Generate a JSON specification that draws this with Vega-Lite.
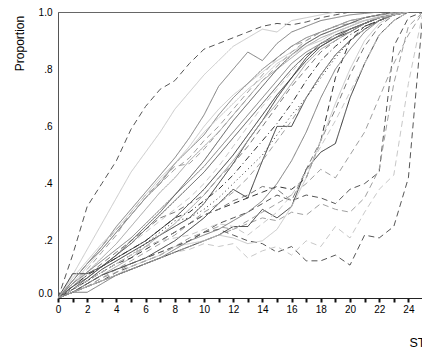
{
"$schema": "https://vega.github.io/schema/vega-lite/v6.json",
"width": 365, "height": 286,
"autosize": "none",
"padding": {"left": 58, "top": 12, "right": 0, "bottom": 54},
"background": "white",
"config": {"view": {"stroke": "#666666", "strokeWidth": 1}, "font": "Liberation Sans"},
"datasets": {
"meta": [
{"s":1,"tone":"d","pat":"a"},{"s":2,"tone":"x","pat":"s"},{"s":3,"tone":"m","pat":"s"},{"s":4,"tone":"x","pat":"s"},
{"s":5,"tone":"l","pat":"s"},{"s":6,"tone":"l","pat":"a"},{"s":7,"tone":"k","pat":"s"},{"s":8,"tone":"k","pat":"s"},
{"s":9,"tone":"k","pat":"o"},{"s":10,"tone":"k","pat":"s"},{"s":11,"tone":"m","pat":"a"},{"s":12,"tone":"l","pat":"s"},
{"s":13,"tone":"x","pat":"a"},{"s":14,"tone":"d","pat":"s"},{"s":15,"tone":"m","pat":"s"},{"s":16,"tone":"k","pat":"b"},
{"s":17,"tone":"l","pat":"a"},{"s":18,"tone":"k","pat":"a"},{"s":19,"tone":"d","pat":"a"},{"s":20,"tone":"l","pat":"a"},
{"s":21,"tone":"d","pat":"a"},{"s":22,"tone":"x","pat":"a"},{"s":23,"tone":"k","pat":"s"},{"s":24,"tone":"m","pat":"a"},
{"s":25,"tone":"x","pat":"s"},{"s":26,"tone":"x","pat":"a"},{"s":27,"tone":"m","pat":"s"},{"s":28,"tone":"m","pat":"s"},
{"s":29,"tone":"d","pat":"s"},{"s":30,"tone":"x","pat":"s"},{"s":31,"tone":"l","pat":"a"},{"s":32,"tone":"l","pat":"a"}
],
"curves": [
{"s":1,"t":0,"p":0},{"s":1,"t":1,"p":0.15},{"s":1,"t":2,"p":0.32},{"s":1,"t":3,"p":0.40},{"s":1,"t":4,"p":0.48},{"s":1,"t":5,"p":0.59},{"s":1,"t":6,"p":0.67},{"s":1,"t":7,"p":0.73},{"s":1,"t":8,"p":0.76},{"s":1,"t":9,"p":0.82},{"s":1,"t":10,"p":0.87},{"s":1,"t":11,"p":0.89},{"s":1,"t":12,"p":0.91},{"s":1,"t":13,"p":0.93},{"s":1,"t":14,"p":0.95},{"s":1,"t":15,"p":0.96},{"s":1,"t":16,"p":0.955},{"s":1,"t":17,"p":0.965},{"s":1,"t":18,"p":0.98},{"s":1,"t":19,"p":0.99},{"s":1,"t":20,"p":1},
{"s":2,"t":0,"p":0},{"s":2,"t":1,"p":0.08},{"s":2,"t":2,"p":0.17},{"s":2,"t":3,"p":0.26},{"s":2,"t":4,"p":0.35},{"s":2,"t":5,"p":0.44},{"s":2,"t":6,"p":0.51},{"s":2,"t":7,"p":0.58},{"s":2,"t":8,"p":0.66},{"s":2,"t":9,"p":0.72},{"s":2,"t":10,"p":0.78},{"s":2,"t":11,"p":0.83},{"s":2,"t":12,"p":0.88},{"s":2,"t":13,"p":0.91},{"s":2,"t":14,"p":0.94},{"s":2,"t":15,"p":0.93},{"s":2,"t":16,"p":0.97},{"s":2,"t":17,"p":0.98},{"s":2,"t":18,"p":0.99},{"s":2,"t":19,"p":1},
{"s":3,"t":0,"p":0},{"s":3,"t":1,"p":0.06},{"s":3,"t":2,"p":0.12},{"s":3,"t":3,"p":0.18},{"s":3,"t":4,"p":0.25},{"s":3,"t":5,"p":0.31},{"s":3,"t":6,"p":0.37},{"s":3,"t":7,"p":0.43},{"s":3,"t":8,"p":0.49},{"s":3,"t":9,"p":0.56},{"s":3,"t":10,"p":0.64},{"s":3,"t":11,"p":0.74},{"s":3,"t":12,"p":0.80},{"s":3,"t":13,"p":0.86},{"s":3,"t":14,"p":0.83},{"s":3,"t":15,"p":0.89},{"s":3,"t":16,"p":0.93},{"s":3,"t":17,"p":0.95},{"s":3,"t":18,"p":0.97},{"s":3,"t":19,"p":0.98},{"s":3,"t":20,"p":0.99},{"s":3,"t":21,"p":0.995},{"s":3,"t":22,"p":1},
{"s":4,"t":0,"p":0},{"s":4,"t":1,"p":0.05},{"s":4,"t":2,"p":0.11},{"s":4,"t":3,"p":0.17},{"s":4,"t":4,"p":0.23},{"s":4,"t":5,"p":0.29},{"s":4,"t":6,"p":0.35},{"s":4,"t":7,"p":0.41},{"s":4,"t":8,"p":0.47},{"s":4,"t":9,"p":0.53},{"s":4,"t":10,"p":0.60},{"s":4,"t":11,"p":0.66},{"s":4,"t":12,"p":0.71},{"s":4,"t":13,"p":0.75},{"s":4,"t":14,"p":0.79},{"s":4,"t":15,"p":0.83},{"s":4,"t":16,"p":0.86},{"s":4,"t":17,"p":0.89},{"s":4,"t":18,"p":0.92},{"s":4,"t":19,"p":0.94},{"s":4,"t":20,"p":0.96},{"s":4,"t":21,"p":0.97},{"s":4,"t":22,"p":0.985},{"s":4,"t":23,"p":0.995},{"s":4,"t":24,"p":1},
{"s":5,"t":0,"p":0},{"s":5,"t":1,"p":0.04},{"s":5,"t":2,"p":0.09},{"s":5,"t":3,"p":0.14},{"s":5,"t":4,"p":0.19},{"s":5,"t":5,"p":0.25},{"s":5,"t":6,"p":0.31},{"s":5,"t":7,"p":0.37},{"s":5,"t":8,"p":0.42},{"s":5,"t":9,"p":0.48},{"s":5,"t":10,"p":0.53},{"s":5,"t":11,"p":0.58},{"s":5,"t":12,"p":0.64},{"s":5,"t":13,"p":0.70},{"s":5,"t":14,"p":0.76},{"s":5,"t":15,"p":0.80},{"s":5,"t":16,"p":0.84},{"s":5,"t":17,"p":0.88},{"s":5,"t":18,"p":0.91},{"s":5,"t":19,"p":0.93},{"s":5,"t":20,"p":0.95},{"s":5,"t":21,"p":0.97},{"s":5,"t":22,"p":0.98},{"s":5,"t":23,"p":0.99},{"s":5,"t":24,"p":1},
{"s":6,"t":0,"p":0},{"s":6,"t":1,"p":0.05},{"s":6,"t":2,"p":0.10},{"s":6,"t":3,"p":0.16},{"s":6,"t":4,"p":0.22},{"s":6,"t":5,"p":0.30},{"s":6,"t":6,"p":0.36},{"s":6,"t":7,"p":0.40},{"s":6,"t":8,"p":0.45},{"s":6,"t":9,"p":0.49},{"s":6,"t":10,"p":0.55},{"s":6,"t":11,"p":0.60},{"s":6,"t":12,"p":0.66},{"s":6,"t":13,"p":0.72},{"s":6,"t":14,"p":0.78},{"s":6,"t":15,"p":0.84},{"s":6,"t":16,"p":0.88},{"s":6,"t":17,"p":0.90},{"s":6,"t":18,"p":0.93},{"s":6,"t":19,"p":0.95},{"s":6,"t":20,"p":0.96},{"s":6,"t":21,"p":0.98},{"s":6,"t":22,"p":0.99},{"s":6,"t":23,"p":0.995},{"s":6,"t":24,"p":1},
{"s":7,"t":0,"p":0},{"s":7,"t":1,"p":0.085},{"s":7,"t":2,"p":0.085},{"s":7,"t":3,"p":0.11},{"s":7,"t":4,"p":0.14},{"s":7,"t":5,"p":0.17},{"s":7,"t":6,"p":0.20},{"s":7,"t":7,"p":0.24},{"s":7,"t":8,"p":0.28},{"s":7,"t":9,"p":0.33},{"s":7,"t":10,"p":0.38},{"s":7,"t":11,"p":0.44},{"s":7,"t":12,"p":0.50},{"s":7,"t":13,"p":0.57},{"s":7,"t":14,"p":0.64},{"s":7,"t":15,"p":0.71},{"s":7,"t":16,"p":0.77},{"s":7,"t":17,"p":0.83},{"s":7,"t":18,"p":0.88},{"s":7,"t":19,"p":0.91},{"s":7,"t":20,"p":0.93},{"s":7,"t":21,"p":0.96},{"s":7,"t":22,"p":0.98},{"s":7,"t":23,"p":0.99},{"s":7,"t":24,"p":1},
{"s":8,"t":0,"p":0},{"s":8,"t":1,"p":0.03},{"s":8,"t":2,"p":0.06},{"s":8,"t":3,"p":0.10},{"s":8,"t":4,"p":0.13},{"s":8,"t":5,"p":0.16},{"s":8,"t":6,"p":0.19},{"s":8,"t":7,"p":0.22},{"s":8,"t":8,"p":0.25},{"s":8,"t":9,"p":0.28},{"s":8,"t":10,"p":0.33},{"s":8,"t":11,"p":0.40},{"s":8,"t":12,"p":0.47},{"s":8,"t":13,"p":0.55},{"s":8,"t":14,"p":0.62},{"s":8,"t":15,"p":0.70},{"s":8,"t":16,"p":0.77},{"s":8,"t":17,"p":0.84},{"s":8,"t":18,"p":0.89},{"s":8,"t":19,"p":0.92},{"s":8,"t":20,"p":0.94},{"s":8,"t":21,"p":0.96},{"s":8,"t":22,"p":0.98},{"s":8,"t":23,"p":0.99},{"s":8,"t":24,"p":1},
{"s":9,"t":0,"p":0},{"s":9,"t":1,"p":0.03},{"s":9,"t":2,"p":0.06},{"s":9,"t":3,"p":0.09},{"s":9,"t":4,"p":0.12},{"s":9,"t":5,"p":0.15},{"s":9,"t":6,"p":0.19},{"s":9,"t":7,"p":0.23},{"s":9,"t":8,"p":0.27},{"s":9,"t":9,"p":0.28},{"s":9,"t":10,"p":0.31},{"s":9,"t":11,"p":0.35},{"s":9,"t":12,"p":0.40},{"s":9,"t":13,"p":0.45},{"s":9,"t":14,"p":0.50},{"s":9,"t":15,"p":0.57},{"s":9,"t":16,"p":0.64},{"s":9,"t":17,"p":0.70},{"s":9,"t":18,"p":0.77},{"s":9,"t":19,"p":0.84},{"s":9,"t":20,"p":0.90},{"s":9,"t":21,"p":0.94},{"s":9,"t":22,"p":0.97},{"s":9,"t":23,"p":0.99},{"s":9,"t":24,"p":1},
{"s":10,"t":0,"p":0},{"s":10,"t":1,"p":0.02},{"s":10,"t":2,"p":0.05},{"s":10,"t":3,"p":0.08},{"s":10,"t":4,"p":0.10},{"s":10,"t":5,"p":0.12},{"s":10,"t":6,"p":0.14},{"s":10,"t":7,"p":0.17},{"s":10,"t":8,"p":0.20},{"s":10,"t":9,"p":0.24},{"s":10,"t":10,"p":0.28},{"s":10,"t":11,"p":0.33},{"s":10,"t":12,"p":0.38},{"s":10,"t":13,"p":0.35},{"s":10,"t":14,"p":0.48},{"s":10,"t":15,"p":0.60},{"s":10,"t":16,"p":0.60},{"s":10,"t":17,"p":0.70},{"s":10,"t":18,"p":0.78},{"s":10,"t":19,"p":0.85},{"s":10,"t":20,"p":0.90},{"s":10,"t":21,"p":0.94},{"s":10,"t":22,"p":0.97},{"s":10,"t":23,"p":0.99},{"s":10,"t":24,"p":1},
{"s":11,"t":0,"p":0},{"s":11,"t":1,"p":0.04},{"s":11,"t":2,"p":0.08},{"s":11,"t":3,"p":0.12},{"s":11,"t":4,"p":0.16},{"s":11,"t":5,"p":0.20},{"s":11,"t":6,"p":0.24},{"s":11,"t":7,"p":0.28},{"s":11,"t":8,"p":0.30},{"s":11,"t":9,"p":0.33},{"s":11,"t":10,"p":0.36},{"s":11,"t":11,"p":0.42},{"s":11,"t":12,"p":0.47},{"s":11,"t":13,"p":0.53},{"s":11,"t":14,"p":0.60},{"s":11,"t":15,"p":0.67},{"s":11,"t":16,"p":0.74},{"s":11,"t":17,"p":0.80},{"s":11,"t":18,"p":0.86},{"s":11,"t":19,"p":0.90},{"s":11,"t":20,"p":0.93},{"s":11,"t":21,"p":0.96},{"s":11,"t":22,"p":0.98},{"s":11,"t":23,"p":0.99},{"s":11,"t":24,"p":1},
{"s":12,"t":0,"p":0},{"s":12,"t":1,"p":0.02},{"s":12,"t":2,"p":0.05},{"s":12,"t":3,"p":0.08},{"s":12,"t":4,"p":0.11},{"s":12,"t":5,"p":0.14},{"s":12,"t":6,"p":0.18},{"s":12,"t":7,"p":0.22},{"s":12,"t":8,"p":0.26},{"s":12,"t":9,"p":0.31},{"s":12,"t":10,"p":0.36},{"s":12,"t":11,"p":0.42},{"s":12,"t":12,"p":0.48},{"s":12,"t":13,"p":0.55},{"s":12,"t":14,"p":0.62},{"s":12,"t":15,"p":0.68},{"s":12,"t":16,"p":0.75},{"s":12,"t":17,"p":0.82},{"s":12,"t":18,"p":0.87},{"s":12,"t":19,"p":0.90},{"s":12,"t":20,"p":0.93},{"s":12,"t":21,"p":0.96},{"s":12,"t":22,"p":0.98},{"s":12,"t":23,"p":0.99},{"s":12,"t":24,"p":1},
{"s":13,"t":0,"p":0},{"s":13,"t":1,"p":0.03},{"s":13,"t":2,"p":0.07},{"s":13,"t":3,"p":0.11},{"s":13,"t":4,"p":0.15},{"s":13,"t":5,"p":0.19},{"s":13,"t":6,"p":0.23},{"s":13,"t":7,"p":0.27},{"s":13,"t":8,"p":0.31},{"s":13,"t":9,"p":0.35},{"s":13,"t":10,"p":0.40},{"s":13,"t":11,"p":0.46},{"s":13,"t":12,"p":0.53},{"s":13,"t":13,"p":0.60},{"s":13,"t":14,"p":0.67},{"s":13,"t":15,"p":0.73},{"s":13,"t":16,"p":0.79},{"s":13,"t":17,"p":0.85},{"s":13,"t":18,"p":0.89},{"s":13,"t":19,"p":0.92},{"s":13,"t":20,"p":0.95},{"s":13,"t":21,"p":0.97},{"s":13,"t":22,"p":0.98},{"s":13,"t":23,"p":0.99},{"s":13,"t":24,"p":1},
{"s":14,"t":0,"p":0},{"s":14,"t":1,"p":0.03},{"s":14,"t":2,"p":0.07},{"s":14,"t":3,"p":0.11},{"s":14,"t":4,"p":0.15},{"s":14,"t":5,"p":0.19},{"s":14,"t":6,"p":0.24},{"s":14,"t":7,"p":0.29},{"s":14,"t":8,"p":0.34},{"s":14,"t":9,"p":0.39},{"s":14,"t":10,"p":0.44},{"s":14,"t":11,"p":0.50},{"s":14,"t":12,"p":0.56},{"s":14,"t":13,"p":0.62},{"s":14,"t":14,"p":0.68},{"s":14,"t":15,"p":0.74},{"s":14,"t":16,"p":0.80},{"s":14,"t":17,"p":0.85},{"s":14,"t":18,"p":0.88},{"s":14,"t":19,"p":0.91},{"s":14,"t":20,"p":0.94},{"s":14,"t":21,"p":0.96},{"s":14,"t":22,"p":0.98},{"s":14,"t":23,"p":0.99},{"s":14,"t":24,"p":1},
{"s":15,"t":0,"p":0},{"s":15,"t":1,"p":0.05},{"s":15,"t":2,"p":0.09},{"s":15,"t":3,"p":0.13},{"s":15,"t":4,"p":0.17},{"s":15,"t":5,"p":0.21},{"s":15,"t":6,"p":0.26},{"s":15,"t":7,"p":0.31},{"s":15,"t":8,"p":0.36},{"s":15,"t":9,"p":0.41},{"s":15,"t":10,"p":0.46},{"s":15,"t":11,"p":0.52},{"s":15,"t":12,"p":0.58},{"s":15,"t":13,"p":0.64},{"s":15,"t":14,"p":0.70},{"s":15,"t":15,"p":0.76},{"s":15,"t":16,"p":0.82},{"s":15,"t":17,"p":0.86},{"s":15,"t":18,"p":0.89},{"s":15,"t":19,"p":0.91},{"s":15,"t":20,"p":0.94},{"s":15,"t":21,"p":0.96},{"s":15,"t":22,"p":0.98},{"s":15,"t":23,"p":0.99},{"s":15,"t":24,"p":1},
{"s":16,"t":0,"p":0},{"s":16,"t":1,"p":0.04},{"s":16,"t":2,"p":0.08},{"s":16,"t":3,"p":0.11},{"s":16,"t":4,"p":0.14},{"s":16,"t":5,"p":0.17},{"s":16,"t":6,"p":0.20},{"s":16,"t":7,"p":0.24},{"s":16,"t":8,"p":0.28},{"s":16,"t":9,"p":0.30},{"s":16,"t":10,"p":0.34},{"s":16,"t":11,"p":0.38},{"s":16,"t":12,"p":0.43},{"s":16,"t":13,"p":0.49},{"s":16,"t":14,"p":0.55},{"s":16,"t":15,"p":0.61},{"s":16,"t":16,"p":0.68},{"s":16,"t":17,"p":0.76},{"s":16,"t":18,"p":0.83},{"s":16,"t":19,"p":0.88},{"s":16,"t":20,"p":0.92},{"s":16,"t":21,"p":0.95},{"s":16,"t":22,"p":0.97},{"s":16,"t":23,"p":0.99},{"s":16,"t":24,"p":1},
{"s":17,"t":0,"p":0},{"s":17,"t":1,"p":0.02},{"s":17,"t":2,"p":0.04},{"s":17,"t":3,"p":0.07},{"s":17,"t":4,"p":0.10},{"s":17,"t":5,"p":0.13},{"s":17,"t":6,"p":0.16},{"s":17,"t":7,"p":0.19},{"s":17,"t":8,"p":0.22},{"s":17,"t":9,"p":0.26},{"s":17,"t":10,"p":0.30},{"s":17,"t":11,"p":0.33},{"s":17,"t":12,"p":0.37},{"s":17,"t":13,"p":0.42},{"s":17,"t":14,"p":0.48},{"s":17,"t":15,"p":0.55},{"s":17,"t":16,"p":0.62},{"s":17,"t":17,"p":0.70},{"s":17,"t":18,"p":0.78},{"s":17,"t":19,"p":0.85},{"s":17,"t":20,"p":0.90},{"s":17,"t":21,"p":0.94},{"s":17,"t":22,"p":0.97},{"s":17,"t":23,"p":0.99},{"s":17,"t":24,"p":1},
{"s":18,"t":0,"p":0},{"s":18,"t":1,"p":0.03},{"s":18,"t":2,"p":0.06},{"s":18,"t":3,"p":0.09},{"s":18,"t":4,"p":0.12},{"s":18,"t":5,"p":0.14},{"s":18,"t":6,"p":0.17},{"s":18,"t":7,"p":0.20},{"s":18,"t":8,"p":0.23},{"s":18,"t":9,"p":0.26},{"s":18,"t":10,"p":0.29},{"s":18,"t":11,"p":0.31},{"s":18,"t":12,"p":0.33},{"s":18,"t":13,"p":0.35},{"s":18,"t":14,"p":0.37},{"s":18,"t":15,"p":0.39},{"s":18,"t":16,"p":0.38},{"s":18,"t":17,"p":0.42},{"s":18,"t":18,"p":0.55},{"s":18,"t":19,"p":0.77},{"s":18,"t":20,"p":0.90},{"s":18,"t":21,"p":0.95},{"s":18,"t":22,"p":0.97},{"s":18,"t":23,"p":0.99},{"s":18,"t":24,"p":1},
{"s":19,"t":0,"p":0},{"s":19,"t":1,"p":0.02},{"s":19,"t":2,"p":0.04},{"s":19,"t":3,"p":0.06},{"s":19,"t":4,"p":0.09},{"s":19,"t":5,"p":0.11},{"s":19,"t":6,"p":0.13},{"s":19,"t":7,"p":0.15},{"s":19,"t":8,"p":0.18},{"s":19,"t":9,"p":0.20},{"s":19,"t":10,"p":0.23},{"s":19,"t":11,"p":0.26},{"s":19,"t":12,"p":0.28},{"s":19,"t":13,"p":0.30},{"s":19,"t":14,"p":0.33},{"s":19,"t":15,"p":0.36},{"s":19,"t":16,"p":0.34},{"s":19,"t":17,"p":0.36},{"s":19,"t":18,"p":0.35},{"s":19,"t":19,"p":0.33},{"s":19,"t":20,"p":0.38},{"s":19,"t":21,"p":0.40},{"s":19,"t":22,"p":0.44},{"s":19,"t":23,"p":0.88},{"s":19,"t":24,"p":0.98},{"s":19,"t":25,"p":1},
{"s":20,"t":0,"p":0},{"s":20,"t":1,"p":0.02},{"s":20,"t":2,"p":0.04},{"s":20,"t":3,"p":0.07},{"s":20,"t":4,"p":0.09},{"s":20,"t":5,"p":0.12},{"s":20,"t":6,"p":0.14},{"s":20,"t":7,"p":0.16},{"s":20,"t":8,"p":0.18},{"s":20,"t":9,"p":0.21},{"s":20,"t":10,"p":0.23},{"s":20,"t":11,"p":0.25},{"s":20,"t":12,"p":0.24},{"s":20,"t":13,"p":0.26},{"s":20,"t":14,"p":0.28},{"s":20,"t":15,"p":0.27},{"s":20,"t":16,"p":0.30},{"s":20,"t":17,"p":0.29},{"s":20,"t":18,"p":0.33},{"s":20,"t":19,"p":0.31},{"s":20,"t":20,"p":0.30},{"s":20,"t":21,"p":0.35},{"s":20,"t":22,"p":0.45},{"s":20,"t":23,"p":0.75},{"s":20,"t":24,"p":0.95},{"s":20,"t":25,"p":1},
{"s":21,"t":0,"p":0},{"s":21,"t":1,"p":0.02},{"s":21,"t":2,"p":0.05},{"s":21,"t":3,"p":0.08},{"s":21,"t":4,"p":0.10},{"s":21,"t":5,"p":0.12},{"s":21,"t":6,"p":0.14},{"s":21,"t":7,"p":0.16},{"s":21,"t":8,"p":0.18},{"s":21,"t":9,"p":0.20},{"s":21,"t":10,"p":0.23},{"s":21,"t":11,"p":0.24},{"s":21,"t":12,"p":0.22},{"s":21,"t":13,"p":0.20},{"s":21,"t":14,"p":0.19},{"s":21,"t":15,"p":0.16},{"s":21,"t":16,"p":0.18},{"s":21,"t":17,"p":0.13},{"s":21,"t":18,"p":0.13},{"s":21,"t":19,"p":0.15},{"s":21,"t":20,"p":0.115},{"s":21,"t":21,"p":0.22},{"s":21,"t":22,"p":0.21},{"s":21,"t":23,"p":0.25},{"s":21,"t":24,"p":0.42},{"s":21,"t":25,"p":1},
{"s":22,"t":0,"p":0},{"s":22,"t":1,"p":0.02},{"s":22,"t":2,"p":0.04},{"s":22,"t":3,"p":0.06},{"s":22,"t":4,"p":0.08},{"s":22,"t":5,"p":0.10},{"s":22,"t":6,"p":0.12},{"s":22,"t":7,"p":0.14},{"s":22,"t":8,"p":0.16},{"s":22,"t":9,"p":0.17},{"s":22,"t":10,"p":0.19},{"s":22,"t":11,"p":0.18},{"s":22,"t":12,"p":0.19},{"s":22,"t":13,"p":0.14},{"s":22,"t":14,"p":0.165},{"s":22,"t":15,"p":0.18},{"s":22,"t":16,"p":0.15},{"s":22,"t":17,"p":0.20},{"s":22,"t":18,"p":0.18},{"s":22,"t":19,"p":0.25},{"s":22,"t":20,"p":0.21},{"s":22,"t":21,"p":0.30},{"s":22,"t":22,"p":0.38},{"s":22,"t":23,"p":0.43},{"s":22,"t":24,"p":0.75},{"s":22,"t":25,"p":1},
{"s":23,"t":0,"p":0},{"s":23,"t":1,"p":0.02},{"s":23,"t":2,"p":0.04},{"s":23,"t":3,"p":0.06},{"s":23,"t":4,"p":0.08},{"s":23,"t":5,"p":0.10},{"s":23,"t":6,"p":0.12},{"s":23,"t":7,"p":0.14},{"s":23,"t":8,"p":0.16},{"s":23,"t":9,"p":0.18},{"s":23,"t":10,"p":0.20},{"s":23,"t":11,"p":0.22},{"s":23,"t":12,"p":0.25},{"s":23,"t":13,"p":0.25},{"s":23,"t":14,"p":0.31},{"s":23,"t":15,"p":0.28},{"s":23,"t":16,"p":0.32},{"s":23,"t":17,"p":0.45},{"s":23,"t":18,"p":0.51},{"s":23,"t":19,"p":0.54},{"s":23,"t":20,"p":0.70},{"s":23,"t":21,"p":0.82},{"s":23,"t":22,"p":0.92},{"s":23,"t":23,"p":0.97},{"s":23,"t":24,"p":1},
{"s":24,"t":0,"p":0},{"s":24,"t":1,"p":0.03},{"s":24,"t":2,"p":0.06},{"s":24,"t":3,"p":0.09},{"s":24,"t":4,"p":0.12},{"s":24,"t":5,"p":0.15},{"s":24,"t":6,"p":0.18},{"s":24,"t":7,"p":0.20},{"s":24,"t":8,"p":0.23},{"s":24,"t":9,"p":0.26},{"s":24,"t":10,"p":0.29},{"s":24,"t":11,"p":0.31},{"s":24,"t":12,"p":0.34},{"s":24,"t":13,"p":0.36},{"s":24,"t":14,"p":0.39},{"s":24,"t":15,"p":0.38},{"s":24,"t":16,"p":0.34},{"s":24,"t":17,"p":0.45},{"s":24,"t":18,"p":0.55},{"s":24,"t":19,"p":0.66},{"s":24,"t":20,"p":0.78},{"s":24,"t":21,"p":0.88},{"s":24,"t":22,"p":0.95},{"s":24,"t":23,"p":0.99},{"s":24,"t":24,"p":1},
{"s":25,"t":0,"p":0},{"s":25,"t":1,"p":0.02},{"s":25,"t":2,"p":0.04},{"s":25,"t":3,"p":0.06},{"s":25,"t":4,"p":0.08},{"s":25,"t":5,"p":0.11},{"s":25,"t":6,"p":0.13},{"s":25,"t":7,"p":0.15},{"s":25,"t":8,"p":0.18},{"s":25,"t":9,"p":0.19},{"s":25,"t":10,"p":0.20},{"s":25,"t":11,"p":0.22},{"s":25,"t":12,"p":0.21},{"s":25,"t":13,"p":0.19},{"s":25,"t":14,"p":0.20},{"s":25,"t":15,"p":0.24},{"s":25,"t":16,"p":0.32},{"s":25,"t":17,"p":0.42},{"s":25,"t":18,"p":0.55},{"s":25,"t":19,"p":0.68},{"s":25,"t":20,"p":0.80},{"s":25,"t":21,"p":0.90},{"s":25,"t":22,"p":0.96},{"s":25,"t":23,"p":0.99},{"s":25,"t":24,"p":1},
{"s":26,"t":0,"p":0},{"s":26,"t":1,"p":0.03},{"s":26,"t":2,"p":0.06},{"s":26,"t":3,"p":0.09},{"s":26,"t":4,"p":0.12},{"s":26,"t":5,"p":0.15},{"s":26,"t":6,"p":0.18},{"s":26,"t":7,"p":0.20},{"s":26,"t":8,"p":0.21},{"s":26,"t":9,"p":0.22},{"s":26,"t":10,"p":0.24},{"s":26,"t":11,"p":0.26},{"s":26,"t":12,"p":0.25},{"s":26,"t":13,"p":0.22},{"s":26,"t":14,"p":0.26},{"s":26,"t":15,"p":0.30},{"s":26,"t":16,"p":0.36},{"s":26,"t":17,"p":0.44},{"s":26,"t":18,"p":0.53},{"s":26,"t":19,"p":0.62},{"s":26,"t":20,"p":0.72},{"s":26,"t":21,"p":0.82},{"s":26,"t":22,"p":0.92},{"s":26,"t":23,"p":0.97},{"s":26,"t":24,"p":1},
{"s":27,"t":0,"p":0},{"s":27,"t":1,"p":0.02},{"s":27,"t":2,"p":0.02},{"s":27,"t":3,"p":0.05},{"s":27,"t":4,"p":0.08},{"s":27,"t":5,"p":0.10},{"s":27,"t":6,"p":0.12},{"s":27,"t":7,"p":0.14},{"s":27,"t":8,"p":0.17},{"s":27,"t":9,"p":0.20},{"s":27,"t":10,"p":0.22},{"s":27,"t":11,"p":0.24},{"s":27,"t":12,"p":0.27},{"s":27,"t":13,"p":0.30},{"s":27,"t":14,"p":0.34},{"s":27,"t":15,"p":0.40},{"s":27,"t":16,"p":0.48},{"s":27,"t":17,"p":0.58},{"s":27,"t":18,"p":0.70},{"s":27,"t":19,"p":0.80},{"s":27,"t":20,"p":0.87},{"s":27,"t":21,"p":0.93},{"s":27,"t":22,"p":0.97},{"s":27,"t":23,"p":0.99},{"s":27,"t":24,"p":1},
{"s":28,"t":0,"p":0},{"s":28,"t":1,"p":0.06},{"s":28,"t":2,"p":0.12},{"s":28,"t":3,"p":0.17},{"s":28,"t":4,"p":0.23},{"s":28,"t":5,"p":0.29},{"s":28,"t":6,"p":0.35},{"s":28,"t":7,"p":0.40},{"s":28,"t":8,"p":0.47},{"s":28,"t":9,"p":0.52},{"s":28,"t":10,"p":0.57},{"s":28,"t":11,"p":0.64},{"s":28,"t":12,"p":0.70},{"s":28,"t":13,"p":0.75},{"s":28,"t":14,"p":0.80},{"s":28,"t":15,"p":0.84},{"s":28,"t":16,"p":0.88},{"s":28,"t":17,"p":0.91},{"s":28,"t":18,"p":0.93},{"s":28,"t":19,"p":0.95},{"s":28,"t":20,"p":0.97},{"s":28,"t":21,"p":0.98},{"s":28,"t":22,"p":0.99},{"s":28,"t":23,"p":1},
{"s":29,"t":0,"p":0},{"s":29,"t":1,"p":0.04},{"s":29,"t":2,"p":0.07},{"s":29,"t":3,"p":0.11},{"s":29,"t":4,"p":0.15},{"s":29,"t":5,"p":0.20},{"s":29,"t":6,"p":0.25},{"s":29,"t":7,"p":0.30},{"s":29,"t":8,"p":0.36},{"s":29,"t":9,"p":0.42},{"s":29,"t":10,"p":0.48},{"s":29,"t":11,"p":0.55},{"s":29,"t":12,"p":0.62},{"s":29,"t":13,"p":0.68},{"s":29,"t":14,"p":0.74},{"s":29,"t":15,"p":0.80},{"s":29,"t":16,"p":0.85},{"s":29,"t":17,"p":0.89},{"s":29,"t":18,"p":0.92},{"s":29,"t":19,"p":0.94},{"s":29,"t":20,"p":0.96},{"s":29,"t":21,"p":0.98},{"s":29,"t":22,"p":0.99},{"s":29,"t":23,"p":1},
{"s":30,"t":0,"p":0},{"s":30,"t":1,"p":0.07},{"s":30,"t":2,"p":0.13},{"s":30,"t":3,"p":0.19},{"s":30,"t":4,"p":0.24},{"s":30,"t":5,"p":0.30},{"s":30,"t":6,"p":0.36},{"s":30,"t":7,"p":0.42},{"s":30,"t":8,"p":0.47},{"s":30,"t":9,"p":0.52},{"s":30,"t":10,"p":0.58},{"s":30,"t":11,"p":0.63},{"s":30,"t":12,"p":0.68},{"s":30,"t":13,"p":0.73},{"s":30,"t":14,"p":0.77},{"s":30,"t":15,"p":0.82},{"s":30,"t":16,"p":0.85},{"s":30,"t":17,"p":0.88},{"s":30,"t":18,"p":0.90},{"s":30,"t":19,"p":0.93},{"s":30,"t":20,"p":0.95},{"s":30,"t":21,"p":0.97},{"s":30,"t":22,"p":0.98},{"s":30,"t":23,"p":0.99},{"s":30,"t":24,"p":1},
{"s":31,"t":0,"p":0},{"s":31,"t":1,"p":0.06},{"s":31,"t":2,"p":0.12},{"s":31,"t":3,"p":0.18},{"s":31,"t":4,"p":0.24},{"s":31,"t":5,"p":0.29},{"s":31,"t":6,"p":0.35},{"s":31,"t":7,"p":0.41},{"s":31,"t":8,"p":0.46},{"s":31,"t":9,"p":0.47},{"s":31,"t":10,"p":0.52},{"s":31,"t":11,"p":0.58},{"s":31,"t":12,"p":0.64},{"s":31,"t":13,"p":0.70},{"s":31,"t":14,"p":0.76},{"s":31,"t":15,"p":0.81},{"s":31,"t":16,"p":0.86},{"s":31,"t":17,"p":0.90},{"s":31,"t":18,"p":0.93},{"s":31,"t":19,"p":0.95},{"s":31,"t":20,"p":0.97},{"s":31,"t":21,"p":0.98},{"s":31,"t":22,"p":0.99},{"s":31,"t":23,"p":1},
{"s":32,"t":0,"p":0},{"s":32,"t":1,"p":0.02},{"s":32,"t":2,"p":0.04},{"s":32,"t":3,"p":0.06},{"s":32,"t":4,"p":0.08},{"s":32,"t":5,"p":0.10},{"s":32,"t":6,"p":0.12},{"s":32,"t":7,"p":0.14},{"s":32,"t":8,"p":0.16},{"s":32,"t":9,"p":0.18},{"s":32,"t":10,"p":0.20},{"s":32,"t":11,"p":0.22},{"s":32,"t":12,"p":0.24},{"s":32,"t":13,"p":0.27},{"s":32,"t":14,"p":0.30},{"s":32,"t":15,"p":0.33},{"s":32,"t":16,"p":0.36},{"s":32,"t":17,"p":0.40},{"s":32,"t":18,"p":0.45},{"s":32,"t":19,"p":0.42},{"s":32,"t":20,"p":0.50},{"s":32,"t":21,"p":0.58},{"s":32,"t":22,"p":0.70},{"s":32,"t":23,"p":0.82},{"s":32,"t":24,"p":0.92},{"s":32,"t":25,"p":1}
]
},
"data": {"name": "curves"},
"transform": [{"lookup": "s", "from": {"data": {"name": "meta"}, "key": "s", "fields": ["tone", "pat"]}}],
"mark": {"type": "line", "strokeWidth": 1, "clip": true},
"encoding": {
"x": {"field": "t", "type": "quantitative", "scale": {"domain": [0, 25], "nice": false},
 "axis": {"values": [0,1,2,3,4,5,6,7,8,9,10,11,12,13,14,15,16,17,18,19,20,21,22,23,24,25],
  "labelExpr": "datum.value % 2 == 0 ? datum.label : ''", "labelOverlap": false, "labelFlush": false,
  "grid": false, "domainColor": "#222222", "tickColor": "#111111", "tickWidth": 2, "tickSize": 4,
  "labelFontSize": 10, "labelColor": "#000000", "labelPadding": 2, "labelFont": "Liberation Sans",
  "title": "STEP", "titleFontSize": 12.5, "titleFontWeight": "normal", "titleColor": "#000000", "titleFont": "Liberation Sans",
  "titleAlign": "left", "titleX": 351, "titleY": 48, "titleBaseline": "alphabetic"}},
"y": {"field": "p", "type": "quantitative", "scale": {"domain": [0, 1], "nice": false},
 "axis": {"values": [0, 0.2, 0.4, 0.6, 0.8, 1],
  "labelExpr": "datum.value == 0 ? '0.0' : (datum.value == 1 ? '1.0' : replace(format(datum.value, '.1f'), '0.', '.'))",
  "ticks": false, "grid": false, "domainColor": "#555555", "labelPadding": 6, "labelFontSize": 10, "labelColor": "#000000", "labelFont": "Liberation Sans",
  "labelBaseline": {"condition": {"test": "datum.value == 0", "value": "bottom"}, "value": "middle"},
  "title": "Proportion", "titleFontSize": 12, "titleFontWeight": "normal", "titleColor": "#000000", "titleFont": "Liberation Sans",
  "titleX": -39, "titleY": 31, "titleAngle": 270, "titleAlign": "center", "titleBaseline": "middle"}},
"color": {"field": "tone", "type": "nominal", "scale": {"domain": ["k","d","m","l","x"], "range": ["#333333","#555555","#7a7a7a","#a0a0a0","#c8c8c8"]}, "legend": null},
"strokeDash": {"field": "pat", "type": "nominal", "scale": {"domain": ["s","a","o","b"], "range": [[1,0],[6,4],[1,3],[6,3,1,3]]}, "legend": null},
"detail": {"field": "s"}
}
}
